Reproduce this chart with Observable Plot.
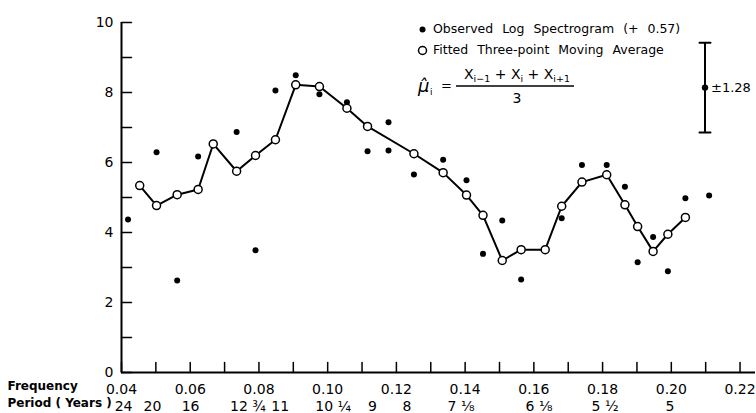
<!DOCTYPE html>
<html><head><meta charset="utf-8">
<script src="https://cdn.jsdelivr.net/npm/d3@7"></script>
<script src="https://cdn.jsdelivr.net/npm/@observablehq/plot@0.6"></script>
<style>
body{margin:0;background:#fff;}
#chart svg{display:block;}
</style></head><body><div id="chart"></div>
<script>
// ---- data ----
const frequency = [0.0419,0.0453,0.0502,0.0562,0.0623,0.0667,0.0735,0.0790,0.0848,0.0907,0.0976,0.1056,0.1116,0.1177,0.1251,0.1336,0.1404,0.1452,0.1508,0.1563,0.1633,0.1681,0.1740,0.1812,0.1865,0.1902,0.1947,0.1990,0.2041,0.2110];
const observed  = [4.37,5.36,6.29,2.63,6.17,6.55,6.87,3.49,8.06,8.49,7.95,7.72,6.32,7.15,5.66,6.08,5.49,3.39,4.34,2.66,3.50,4.41,5.93,5.93,5.31,3.15,3.87,2.89,4.98,5.06];
const fitted    = [null,5.34,4.77,5.08,5.23,6.53,5.75,6.20,6.65,8.22,8.17,7.55,7.03,null,6.25,5.71,5.07,4.49,3.20,3.51,3.51,4.75,5.44,5.65,4.79,4.17,3.46,3.95,4.43,null];
const extraFrequency = [0.1177];
const extraObserved = [6.34];

const xTickValues = [0.04,0.05,0.06,0.07,0.08,0.09,0.10,0.11,0.12,0.13,0.14,0.15,0.16,0.17,0.18,0.19,0.20,0.21,0.22];
const xLabelValues = [0.04,0.06,0.08,0.10,0.12,0.14,0.16,0.18,0.20,0.22];
const xTickLabels = ["0.04","0.06","0.08","0.10","0.12","0.14","0.16","0.18","0.20","0.22"];
const yTickValues = [0,1,2,3,4,5,6,7,8,9,10];
const yLabelValues = [0,2,4,6,8,10];
const periodLabels = ["24","20","16","12 ¾","11","10 ¼","9","8","7 ⅛","6 ⅛","5 ½","5"];
const periodFrequency = [0.0406,0.0490,0.0601,0.0768,0.0862,0.1016,0.1130,0.1231,0.1388,0.1615,0.1807,0.1996];

const errorFrequency = 0.2098, errorCenter = 8.14, errorHalf = 1.28;
const legendFrequency = 0.1276, legendValue = 9.8;

// ---- tables ----
const obs = frequency.map((f,i)=>({f, v: observed[i]}))
  .concat(extraFrequency.map((f,i)=>({f, v: extraObserved[i]})));
const fit = frequency.map((f,i)=>({f, v: fitted[i]})).filter(d=>d.v!=null);

const tickShape = {draw(context, l){ context.moveTo(0,0); context.lineTo(0,-l); }};
const FONT = "DejaVu Sans";

const plot = Plot.plot({
  width: 756, height: 413,
  marginLeft: 121, marginRight: 1, marginTop: 22, marginBottom: 41,
  x: {domain: [0.04, 0.2245], axis: null},
  y: {domain: [0, 10], axis: null},
  style: {fontFamily: FONT, fontSize: "14px", color: "#000", background: "#fff", overflow: "visible"},
  marks: [
    Plot.ruleX([0.04], {y1: 0, y2: 10, strokeWidth: 2, stroke: "#000"}),
    Plot.ruleY([0], {x1: 0.04, x2: 0.2245, strokeWidth: 2, stroke: "#000"}),
    Plot.vector(xTickValues, {x: d=>d, y: 0, length: 10, rotate: 0, anchor: "start", shape: tickShape, stroke: "#000", strokeWidth: 1.5}),
    Plot.vector(yTickValues, {x: 0.04, y: d=>d, length: 10, rotate: 90, anchor: "start", shape: tickShape, stroke: "#000", strokeWidth: 1.5}),
    Plot.text(xLabelValues, {x: d=>d, y: 0, text: (d,i)=>xTickLabels[i], dy: 17, fontSize: 14}),
    Plot.text(periodFrequency, {x: d=>d, y: 0, text: (d,i)=>periodLabels[i], dy: 34, fontSize: 14}),
    Plot.text(yLabelValues, {x: 0.04, y: d=>d, text: d=>String(d), dx: -8, textAnchor: "end", fontSize: 14}),
    Plot.text(["Frequency"], {frameAnchor: "bottom-left", dx: -114, dy: 17, textAnchor: "start", fontSize: 12, fontWeight: "bold"}),
    Plot.text(["Period ( Years )"], {frameAnchor: "bottom-left", dx: -114, dy: 34, textAnchor: "start", fontSize: 12, fontWeight: "bold"}),
    // error bar
    Plot.ruleX([errorFrequency], {y1: errorCenter-errorHalf, y2: errorCenter+errorHalf, strokeWidth: 2, stroke: "#000"}),
    Plot.vector([errorCenter-errorHalf, errorCenter+errorHalf], {x: errorFrequency, y: d=>d, length: 11, rotate: 90, anchor: "middle", shape: tickShape, stroke: "#000", strokeWidth: 2}),
    Plot.dot([errorCenter], {x: errorFrequency, y: d=>d, r: 3.2, fill: "#000"}),
    Plot.text([errorCenter], {x: errorFrequency, y: d=>d, text: ["±1.28"], dx: 6, textAnchor: "start", fontSize: 13}),
    // data
    Plot.dot(obs, {x: "f", y: "v", r: 3, fill: "#000"}),
    Plot.line(fit, {x: "f", y: "v", strokeWidth: 2, stroke: "#000"}),
    Plot.dot(fit, {x: "f", y: "v", r: 4, fill: "#fff", stroke: "#000", strokeWidth: 1.5}),
    // legend symbols
    Plot.dot([legendValue], {x: legendFrequency, y: d=>d, r: 3, fill: "#000"}),
    Plot.dot([legendValue], {x: legendFrequency, y: d=>d, r: 4, fill: "#fff", stroke: "#000", strokeWidth: 1.5, dy: 21})
  ]
});

// legend text and formula, anchored at the legend point through the scales
const sx = plot.scale("x").apply, sy = plot.scale("y").apply;
const ax = sx(legendFrequency), ay = sy(legendValue);
const svg = d3.select(plot);
const g = svg.append("g").attr("font-family", FONT).attr("fill", "#000").attr("text-anchor", "start");
g.append("text").attr("x", ax+11).attr("y", ay).attr("dy", "0.35em").attr("font-size", 12.5).attr("word-spacing", 5).text("Observed Log Spectrogram (+ 0.57)");
g.append("text").attr("x", ax+11).attr("y", ay+21).attr("dy", "0.35em").attr("font-size", 12.5).attr("word-spacing", 5).text("Fitted Three-point Moving Average");
// formula
const fy = ay + 57;
g.append("text").attr("x", ax-4).attr("y", fy+6).attr("font-size", 18).attr("font-style", "italic").text("μ\u0302");
g.append("text").attr("x", ax+8).attr("y", fy+9).attr("font-size", 9).text("i");
g.append("text").attr("x", ax+19).attr("y", fy+4).attr("font-size", 13).text("=");
const num = g.append("text").attr("x", ax+95).attr("y", fy-7).attr("text-anchor", "middle").attr("font-size", 14);
num.append("tspan").text("X");
num.append("tspan").attr("font-size", 9.5).attr("dy", 3).text("i−1");
num.append("tspan").attr("dy", -3).text(" + X");
num.append("tspan").attr("font-size", 9.5).attr("dy", 3).text("i");
num.append("tspan").attr("dy", -3).text(" + X");
num.append("tspan").attr("font-size", 9.5).attr("dy", 3).text("i+1");
g.append("line").attr("x1", ax+34).attr("x2", ax+152).attr("y1", fy).attr("y2", fy).attr("stroke", "#000").attr("stroke-width", 1.3);
g.append("text").attr("x", ax+95).attr("y", fy+17).attr("text-anchor", "middle").attr("font-size", 14).text("3");

document.getElementById("chart").appendChild(plot);
</script></body></html>
